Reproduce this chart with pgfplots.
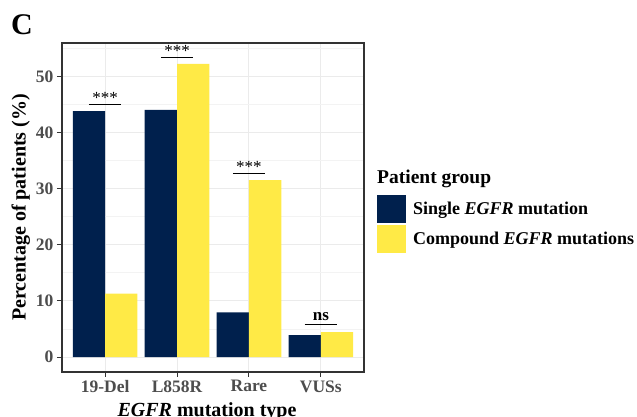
\documentclass[border=0pt]{standalone}
\usepackage{fontspec}
\setmainfont{Liberation Serif}
\usepackage{pgfplots}
\pgfplotsset{compat=1.18}
\definecolor{navy}{HTML}{00204D}
\definecolor{yel}{HTML}{FFEA46}
\definecolor{gridc}{HTML}{EBEBEB}
\definecolor{tickc}{HTML}{4D4D4D}
\definecolor{framec}{HTML}{333333}
\begin{document}
\begin{tikzpicture}[x=1pt,y=1pt]
\path[use as bounding box] (0,0) rectangle (637,417);
\node[anchor=base west, font=\bfseries\fontsize{30}{30}\selectfont, inner sep=0pt] at (11,382) {C};
\begin{axis}[
  at={(62pt,45pt)}, anchor=south west, scale only axis, width=302pt, height=329pt,
  xmin=-0.6, xmax=3.6, ymin=-2.67, ymax=55.93,
  xtick={0,1,2,3}, xticklabels={19-Del,L858R,Rare,VUSs},
  ytick={0,10,...,50}, minor ytick={5,15,...,55},
  grid=both,
  major grid style={gridc, line width=1pt},
  minor grid style={gridc!60, line width=0.6pt},
  axis line style={framec, line width=1.2pt},
  tick align=outside, tick pos=left, major tick length=5pt, minor tick length=0pt,
  tick style={framec, line width=1pt},
  ticklabel style={font=\bfseries\fontsize{17.5}{17.5}\selectfont, text=tickc},
  /pgf/number format/assume math mode=true,
  xlabel={\textbf{\textit{EGFR} mutation type}},
  ylabel={\textbf{Percentage of patients (\%)}},
  label style={font=\fontsize{20}{20}\selectfont},
  xlabel style={xshift=-6pt, yshift=-3pt},
  ylabel style={yshift=-1pt},
  ybar, bar width=0.45, bar shift=0pt,
  legend image code/.code={\fill[#1] (0pt,-14pt) rectangle (29pt,14pt);},
  legend style={at={(1.043,0.538)}, anchor=north west, draw=none, fill=none,
    inner sep=0pt, row sep=2pt, column sep=6pt,
    font=\bfseries\fontsize{18}{18}\selectfont,
    nodes={inner sep=1pt, anchor=west}},
  legend cell align=left,
  clip=false,
]
\addplot[fill=navy, draw=none] coordinates {(-0.225,43.8) (0.775,44.0) (1.775,7.95) (2.775,3.9)};
\addlegendentry{Single \textit{EGFR} mutation}
\addplot[fill=yel, draw=none] coordinates {(0.225,11.3) (1.225,52.2) (2.225,31.5) (3.225,4.45)};
\addlegendentry{Compound \textit{EGFR} mutations}
% significance brackets
\addplot[sharp plot, black, line width=1pt, forget plot] coordinates {(-0.225,44.9) (0.225,44.9)};
\addplot[sharp plot, black, line width=1pt, forget plot] coordinates {(0.775,53.3) (1.225,53.3)};
\addplot[sharp plot, black, line width=1pt, forget plot] coordinates {(1.775,32.7) (2.225,32.7)};
\addplot[sharp plot, black, line width=1pt, forget plot] coordinates {(2.775,5.75) (3.225,5.75)};
\node[anchor=base, font=\fontsize{17}{17}\selectfont, inner sep=0pt, yshift=1pt] at (axis cs:0,44.9) {***};
\node[anchor=base, font=\fontsize{17}{17}\selectfont, inner sep=0pt, yshift=1pt] at (axis cs:1,53.3) {***};
\node[anchor=base, font=\fontsize{17}{17}\selectfont, inner sep=0pt, yshift=1pt] at (axis cs:2,32.7) {***};
\node[anchor=base, font=\bfseries\fontsize{17}{17}\selectfont, inner sep=0pt, yshift=4.5pt] at (axis cs:3,5.75) {ns};
\end{axis}
\node[anchor=base west, font=\bfseries\fontsize{19.5}{19.5}\selectfont, inner sep=0pt] at (377,233) {Patient group};
\end{tikzpicture}
\end{document}
